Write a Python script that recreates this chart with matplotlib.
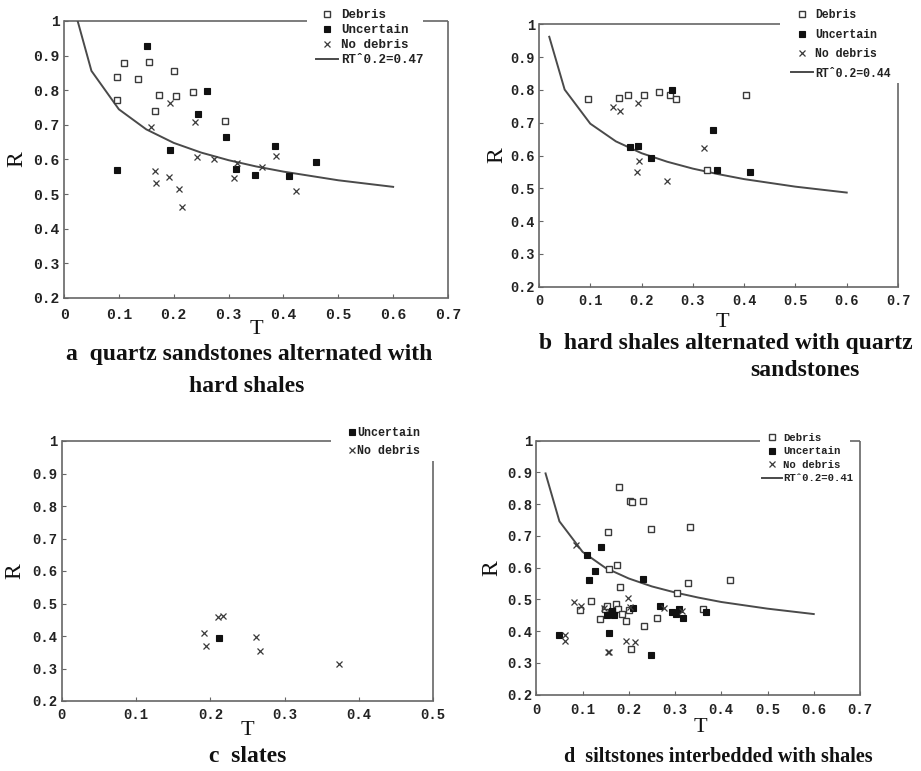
import matplotlib
matplotlib.use("Agg")
import matplotlib.pyplot as plt
from matplotlib.ticker import FuncFormatter, MultipleLocator

W, H = 921, 771

# ---------------- data ----------------
# Panel a
a_debris_T = [0.096, 0.096, 0.110, 0.135, 0.155, 0.165, 0.174, 0.200, 0.205, 0.235, 0.294]
a_debris_R = [0.838, 0.773, 0.879, 0.832, 0.883, 0.739, 0.785, 0.856, 0.784, 0.795, 0.712]
a_unc_T = [0.097, 0.151, 0.193, 0.245, 0.261, 0.296, 0.314, 0.349, 0.384, 0.410, 0.460]
a_unc_R = [0.570, 0.929, 0.628, 0.732, 0.799, 0.665, 0.572, 0.555, 0.640, 0.552, 0.592]
a_nod_T = [0.193, 0.159, 0.239, 0.165, 0.167, 0.191, 0.210, 0.216, 0.242, 0.273, 0.316, 0.310, 0.361, 0.386, 0.423]
a_nod_R = [0.762, 0.694, 0.708, 0.567, 0.532, 0.550, 0.514, 0.463, 0.607, 0.602, 0.590, 0.547, 0.577, 0.610, 0.509]

# Panel b
b_debris_T = [0.095, 0.156, 0.174, 0.205, 0.234, 0.256, 0.268, 0.328, 0.403]
b_debris_R = [0.772, 0.775, 0.785, 0.785, 0.793, 0.783, 0.773, 0.556, 0.785]
b_unc_T = [0.260, 0.178, 0.193, 0.218, 0.340, 0.348, 0.411]
b_unc_R = [0.799, 0.627, 0.628, 0.592, 0.679, 0.555, 0.551]
b_nod_T = [0.145, 0.158, 0.194, 0.195, 0.191, 0.249, 0.321]
b_nod_R = [0.749, 0.736, 0.761, 0.583, 0.549, 0.521, 0.624]

# Panel c
c_unc_T = [0.211]
c_unc_R = [0.395]
c_nod_T = [0.191, 0.194, 0.210, 0.217, 0.262, 0.267, 0.373]
c_nod_R = [0.410, 0.370, 0.457, 0.462, 0.398, 0.355, 0.315]

# Panel d
d_debris_T = [0.179, 0.202, 0.206, 0.231, 0.248, 0.333, 0.155, 0.174, 0.158, 0.180, 0.329, 0.419,
              0.305, 0.118, 0.095, 0.172, 0.149, 0.153, 0.176, 0.186, 0.201, 0.193, 0.138, 0.233,
              0.262, 0.204, 0.360]
d_debris_R = [0.855, 0.811, 0.806, 0.811, 0.721, 0.728, 0.712, 0.608, 0.597, 0.540, 0.553, 0.561,
              0.521, 0.496, 0.467, 0.485, 0.471, 0.480, 0.469, 0.453, 0.468, 0.433, 0.437, 0.417,
              0.443, 0.343, 0.471]
d_unc_T = [0.139, 0.109, 0.128, 0.115, 0.230, 0.050, 0.163, 0.152, 0.168, 0.158, 0.210, 0.248,
           0.268, 0.294, 0.302, 0.308, 0.318, 0.367]
d_unc_R = [0.664, 0.639, 0.589, 0.560, 0.563, 0.387, 0.465, 0.450, 0.452, 0.393, 0.472, 0.326,
           0.480, 0.459, 0.454, 0.471, 0.443, 0.461]
d_nod_T = [0.086, 0.082, 0.096, 0.061, 0.062, 0.198, 0.203, 0.194, 0.213, 0.154, 0.157, 0.276,
           0.314, 0.147]
d_nod_R = [0.670, 0.491, 0.479, 0.389, 0.370, 0.506, 0.477, 0.369, 0.365, 0.334, 0.336, 0.474,
           0.465, 0.472]

# threshold curves
curve_T = [0.02, 0.05, 0.10, 0.15, 0.20, 0.25, 0.30, 0.35, 0.40, 0.50, 0.60]
a_curve_R = [1.028, 0.856, 0.745, 0.687, 0.648, 0.620, 0.598, 0.580, 0.565, 0.540, 0.521]
b_curve_R = [0.962, 0.801, 0.697, 0.643, 0.607, 0.581, 0.560, 0.543, 0.528, 0.505, 0.487]
d_curve_R = [0.897, 0.746, 0.650, 0.599, 0.566, 0.541, 0.522, 0.506, 0.492, 0.471, 0.454]

lab_debris = "Debris"
lab_unc = "Uncertain"
lab_nod = "No debris"
a_curve_lab = "RT\u02c60.2=0.47"
b_curve_lab = "RT\u02c60.2=0.44"
d_curve_lab = "RT\u02c60.2=0.41"

titles = {
    "a1": "a  quartz sandstones alternated with",
    "a2": "hard shales",
    "b1": "b  hard shales alternated with quartz",
    "b2": "sandstones",
    "c": "c  slates",
    "d": "d  siltstones interbedded with shales",
}

# ---------------- style ----------------
MONO = "Liberation Mono"
SERIF = "Liberation Serif"
SPINE = "#666666"
DARK = "#3a3a3a"

fig = plt.figure(figsize=(W / 100, H / 100), dpi=100)
fig.patch.set_facecolor("white")


def axes_px(left, right, top, bottom):
    return fig.add_axes([left / W, 1 - bottom / H, (right - left) / W, (bottom - top) / H])


def fmt(v, pos):
    r = round(v, 2)
    if abs(r) < 1e-9:
        return "0"
    if abs(r - 1) < 1e-9:
        return "1"
    return f"{r:.1f}"


def setup(ax, xmax, tick_fs, top_segs, right_top, xpad=6):
    ax.set_xlim(0, xmax)
    ax.set_ylim(0.2, 1.0)
    ax.xaxis.set_major_locator(MultipleLocator(0.1))
    ax.yaxis.set_major_locator(MultipleLocator(0.1))
    ax.xaxis.set_major_formatter(FuncFormatter(fmt))
    ax.yaxis.set_major_formatter(FuncFormatter(fmt))
    for s in ["top", "right"]:
        ax.spines[s].set_visible(False)
    for s in ["left", "bottom"]:
        ax.spines[s].set_color(SPINE)
        ax.spines[s].set_linewidth(1.2)
    ax.tick_params(direction="in", length=3, width=0.8, color=SPINE)
    ax.tick_params(axis="x", pad=xpad)
    ax.tick_params(axis="y", pad=3)
    for lab in ax.get_xticklabels() + ax.get_yticklabels():
        lab.set_fontfamily(MONO)
        lab.set_fontweight("bold")
        lab.set_fontsize(tick_fs)
        lab.set_color("#222222")
    for x0, x1 in top_segs:
        ax.plot([x0, x1], [1, 1], transform=ax.transAxes, color=SPINE, lw=1.2,
                clip_on=False, zorder=3, solid_capstyle="butt")
    ax.plot([1, 1], [0, right_top], transform=ax.transAxes, color=SPINE, lw=1.2,
            clip_on=False, zorder=3, solid_capstyle="butt")


def points(ax, dT=None, dR=None, uT=None, uR=None, nT=None, nR=None):
    hs = []
    if dT is not None:
        h, = ax.plot(dT, dR, ls="none", marker="s", ms=4.5, mfc="white", mec=DARK, mew=1.0,
                     label=lab_debris, zorder=4)
        hs.append(h)
    if uT is not None:
        h, = ax.plot(uT, uR, ls="none", marker="s", ms=4.8, mfc="#111111", mec="#111111",
                     mew=0.8, label=lab_unc, zorder=4)
        hs.append(h)
    if nT is not None:
        h, = ax.plot(nT, nR, ls="none", marker="x", ms=4.0, mec=DARK, mew=0.9,
                     label=lab_nod, zorder=4)
        hs.append(h)
    return hs


def legend(ax, hs, fs, left_px, top_px, hl, htp, ls):
    leg = ax.legend(handles=hs, loc="upper left",
                    bbox_to_anchor=(left_px / W, 1 - top_px / H), bbox_transform=fig.transFigure,
                    frameon=False, borderpad=0, borderaxespad=0, handlelength=hl,
                    handletextpad=htp, labelspacing=ls,
                    prop={"family": [MONO, "DejaVu Sans Mono"], "weight": "bold", "size": fs})
    for t in leg.get_texts():
        t.set_color("#222222")
    return leg


def labels(ax, xl_pos, yl_pos, fs_x=16, fs_y=17):
    ax.set_xlabel("T", fontfamily=SERIF, fontsize=fs_x, va="center", color="#111111")
    ax.set_ylabel("R", fontfamily=SERIF, fontsize=fs_y, va="center", color="#111111")
    ax.xaxis.set_label_coords(*xl_pos)
    ax.yaxis.set_label_coords(*yl_pos)


# ---------------- panel a ----------------
axa = axes_px(64, 448, 21, 298)
setup(axa, 0.7, 10.5, [(0, 0.633), (0.935, 1.0)], 1.0, xpad=7)
hs = points(axa, a_debris_T, a_debris_R, a_unc_T, a_unc_R, a_nod_T, a_nod_R)
hc, = axa.plot(curve_T, a_curve_R, color="#4a4a4a", lw=1.4, label=a_curve_lab, zorder=3)
legend(axa, hs + [hc], 9, 316, 9, 1.76, 0.24, 0.25)
labels(axa, (0.5, -0.115), (-0.122, 0.5))

# ---------------- panel b ----------------
axb = axes_px(539, 898, 24.3, 286.7)
setup(axb, 0.7, 9.8, [(0, 0.671)], 0.776, xpad=5)
hs = points(axb, b_debris_T, b_debris_R, b_unc_T, b_unc_R, b_nod_T, b_nod_R)
hc, = axb.plot(curve_T, b_curve_R, color="#4a4a4a", lw=1.4, label=b_curve_lab, zorder=3)
legend(axb, hs + [hc], 8.3, 791, 9.4, 1.9, 0.17, 0.64)
labels(axb, (0.51, -0.135), (-0.117, 0.5))

# ---------------- panel c ----------------
axc = axes_px(61.7, 433.3, 441, 701)
setup(axc, 0.5, 10, [(0, 0.725)], 0.923, xpad=5)
hs = points(axc, None, None, c_unc_T, c_unc_R, c_nod_T, c_nod_R)
legend(axc, hs, 8.4, 349, 427.3, 0.5, 0.19, 0.48)
labels(axc, (0.5, -0.115), (-0.126, 0.5))

# ---------------- panel d ----------------
axd = axes_px(536.3, 860, 440.7, 694.7)
setup(axd, 0.7, 10, [(0, 0.691), (0.97, 1.0)], 1.0, xpad=6)
hs = points(axd, d_debris_T, d_debris_R, d_unc_T, d_unc_R, d_nod_T, d_nod_R)
hc, = axd.plot(curve_T, d_curve_R, color="#4a4a4a", lw=1.4, label=d_curve_lab, zorder=3)
legend(axd, hs + [hc], 7.7, 762, 433, 1.87, 0.1, 0.32)
labels(axd, (0.506, -0.13), (-0.137, 0.5))

# ---------------- captions ----------------
def caption(text, xc, yc, fs=17):
    fig.text(xc / W, 1 - yc / H, text, ha="center", va="center", fontfamily=SERIF,
             fontweight="bold", fontsize=fs, color="#111111")

caption(titles["a1"], 249, 355)
caption(titles["a2"], 247, 387)
caption(titles["b1"], 726, 343)
caption(titles["b2"], 805, 370)
caption(titles["c"], 248, 757)
caption(titles["d"], 718, 757, fs=14.5)

fig.savefig("out.png", dpi=100, facecolor="white")
